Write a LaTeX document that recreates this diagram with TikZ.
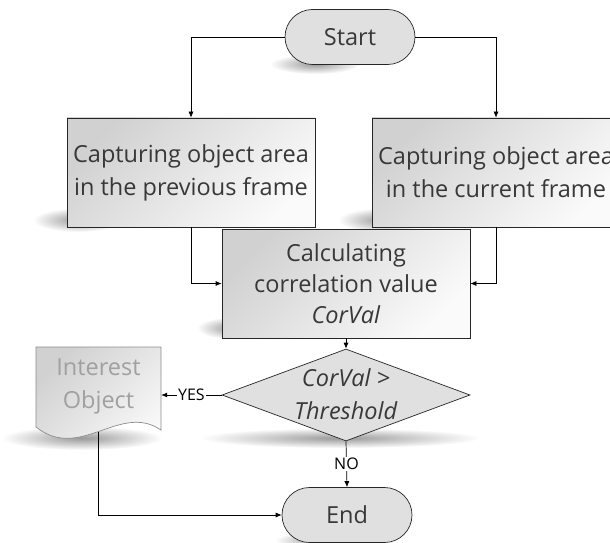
\documentclass[tikz,border=0pt]{standalone}
\usepackage{fontspec}
\setmainfont{Open Sans}
\usetikzlibrary{shapes.misc,shapes.geometric,arrows.meta,fadings}
\definecolor{txt}{HTML}{383838}
\definecolor{ltxt}{HTML}{A0A0A0}
\definecolor{termfill}{HTML}{E0E0E0}
\tikzfading[name=softshad, inner color=transparent!0, outer color=transparent!100]
\begin{document}
\begin{tikzpicture}[x=1pt,y=1pt,
 font=\fontsize{23.5}{33}\selectfont, text=txt,
 term/.style={rounded rectangle, draw=black!85, line width=0.7pt, fill=termfill, minimum width=130pt, minimum height=55pt, inner sep=0pt},
 procbox/.style={rectangle, draw=black!85, line width=0.7pt, top color=black!18, bottom color=black!2, shading angle=45, minimum width=248pt, minimum height=109pt, align=center, inner sep=0pt},
 decbox/.style={diamond, draw=black!85, line width=0.7pt, fill=termfill, minimum width=248pt, minimum height=92pt, inner sep=0pt},
 docshape/.style={draw=black!45, line width=0.7pt, top color=black!18, bottom color=black!2, shading angle=45},
 arr/.style={-{Latex[length=6pt,width=5pt]}, line width=0.7pt, black},
 lbl/.style={font=\fontsize{16}{18}\selectfont, fill=white, inner sep=1pt},
 shad/.style={fill=black, opacity=0.4, path fading=softshad}
]
\useasboundingbox (0,0) rectangle (610,542);
\clip (0,0) rectangle (610,542);
% shadows
\fill[shad] (315,478) ellipse (45 and 10);
\fill[shad] (78,322) ellipse (45 and 12);
\fill[shad] (383,322) ellipse (45 and 12);
\fill[shad] (232,214) ellipse (35 and 11);
\fill[shad] (340,104) ellipse (140 and 10);
\fill[shad] (82,104) ellipse (80 and 12);
\fill[shad] (320,2) ellipse (45 and 8);
% nodes
\node[term] (start) at (350,505) {Start};
\node[procbox] (prev) at (191,369.5) {Capturing object area\\in the previous frame};
\node[procbox] (curr) at (496,369.5) {Capturing object area\\in the current frame};
\node[procbox, font=\fontsize{23.5}{31}\selectfont] (calc) at (346,258.5) {Calculating\\correlation value\\\textit{CorVal}};
\node[decbox] (dec) at (346,147) {};
\node[align=center, inner sep=0pt] (dect) at (346,148) {\textit{CorVal >}\\\textit{Threshold}};
\node[term] (end) at (347,27) {End};
\draw[docshape] (36,195) -- (161,195) -- (161,112) .. controls (120,140) and (80,80) .. (36,115) -- cycle;
\node[text=ltxt, align=center, minimum width=125pt, inner sep=0pt] (io) at (98.5,156) {Interest\\Object};
\coordinate (iobot) at (98,110);
% connectors
\draw[arr] (start.west) -| (prev.north);
\draw[arr] (start.east) -| (curr.north);
\draw[arr] (prev.south) |- (calc.west);
\draw[arr] (curr.south) |- (calc.east);
\draw[arr] (calc.south) -- (dec.north);
\draw[arr] (dec.west) -- node[lbl]{YES} (dec.west -| io.east);
\draw[arr] (dec.south) -- node[lbl]{NO} (end.north);
\draw[arr] (iobot) |- (end.west);
\end{tikzpicture}
\end{document}
